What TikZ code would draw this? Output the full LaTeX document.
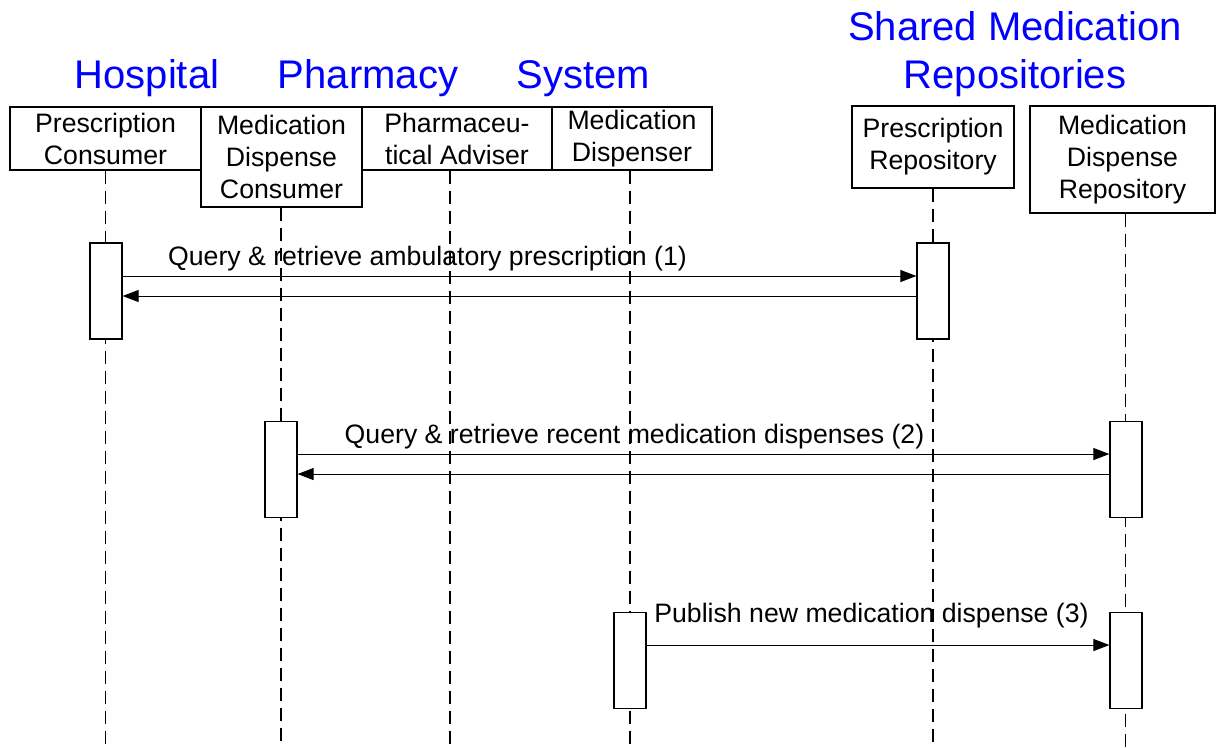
\documentclass[tikz,border=0pt]{standalone}
\usepackage{fontspec}
\setmainfont{Liberation Sans}
\usetikzlibrary{arrows.meta}

\tikzset{
  actor/.style={draw, line width=0.9pt, fill=white, align=center, inner sep=0.75pt, font=\fontsize{20}{24}\selectfont},
  actbox/.style={draw, line width=0.9pt, fill=white, minimum width=24pt, minimum height=72pt, inner sep=0pt},
  lifeline/.style={line width=0.8pt, dash pattern=on 9.75pt off 5.25pt},
  msg/.style={line width=0.75pt, -{Triangle[length=12pt,width=9pt]}},
  msglabel/.style={anchor=base, inner sep=0.75pt, font=\fontsize{20}{24}\selectfont},
  group/.style={anchor=base, text=blue, align=center, inner sep=0.75pt, font=\fontsize{30}{36}\selectfont},
}

\begin{document}
\begin{tikzpicture}[x=0.75pt,y=0.75pt,yscale=-1,xscale=1]
\useasboundingbox (0,0) rectangle (1217,747);

% Text Node
\node [group] (hosp) at (147,88) {Hospital};
% Text Node
\node [group] (pharm) at (368,88) {Pharmacy};
% Text Node
\node [group] (sys) at (583,88) {System};
% Text Node
\node [group] (shared) at (1015,88) {Shared Medication\\Repositories};

%Shape: Rectangle [header boxes]
\node [actor, minimum width=143.25pt, minimum height=47.25pt] (pc) at (105.5,138.5) {Prescription\\Consumer};
\node [actor, minimum width=120.75pt, minimum height=75pt] (mdc) at (281.5,157) {Medication\\Dispense\\Consumer};
\node [actor, minimum width=142.5pt, minimum height=47.25pt] (pa) at (457,138.5) {Pharmaceu-\\tical Adviser};
\node [actor, minimum width=120pt, minimum height=47.25pt] (md) at (632,138.5) {Medication\\Dispenser};
\node [actor, minimum width=121.5pt, minimum height=61.5pt] (pr) at (933,147) {Prescription\\Repository};
\node [actor, minimum width=138.75pt, minimum height=80.25pt] (mdr) at (1122.5,159.5) {Medication\\Dispense\\Repository};

\coordinate (bottom) at (0,747);

%Straight Lines [lifelines]
\draw [lifeline] (pc.south) -- (pc.south |- bottom);
\draw [lifeline] ([xshift=-0.4pt]mdc.south) -- ([xshift=-0.4pt]mdc.south |- bottom);
\draw [lifeline] ([xshift=-5.25pt]pa.south) -- ([xshift=-5.25pt]pa.south |- bottom);
\draw [lifeline] ([xshift=-1.5pt]md.south) -- ([xshift=-1.5pt]md.south |- bottom);
\draw [lifeline] (pr.south) -- (pr.south |- bottom);
\draw [lifeline] ([xshift=2.25pt]mdr.south) -- ([xshift=2.25pt]mdr.south |- bottom);

%Shape: Rectangle [activations]
\node [actbox] (a1) at (106,291) {};
\node [actbox] (a2) at (933,291) {};
\node [actbox] (a3) at (281,469.5) {};
\node [actbox] (a4) at (1126,469.5) {};
\node [actbox] (a5) at (630,660.5) {};
\node [actbox] (a6) at (1126,660.5) {};

%Straight Lines [messages]
\draw [msg] ([yshift=-11.25pt]a1.east) -- ([yshift=-11.25pt]a2.west);
\draw [msg] ([yshift=3.75pt]a2.west) -- ([yshift=3.75pt]a1.east);
\draw [msg] ([yshift=-11.6pt]a3.east) -- ([yshift=-11.6pt]a4.west);
\draw [msg] ([yshift=3.4pt]a4.west) -- ([yshift=3.4pt]a3.east);
\draw [msg] ([yshift=-11.6pt]a5.east) -- ([yshift=-11.6pt]a6.west);

% Text Node
\node [msglabel] (m1) at (427.5,265) {Query \& retrieve ambulatory prescription (1)};
% Text Node
\node [msglabel] (m2) at (634.5,443) {Query \& retrieve recent medication dispenses (2)};
% Text Node
\node [msglabel] (m3) at (871.5,622) {Publish new medication dispense (3)};

\end{tikzpicture}
\end{document}
